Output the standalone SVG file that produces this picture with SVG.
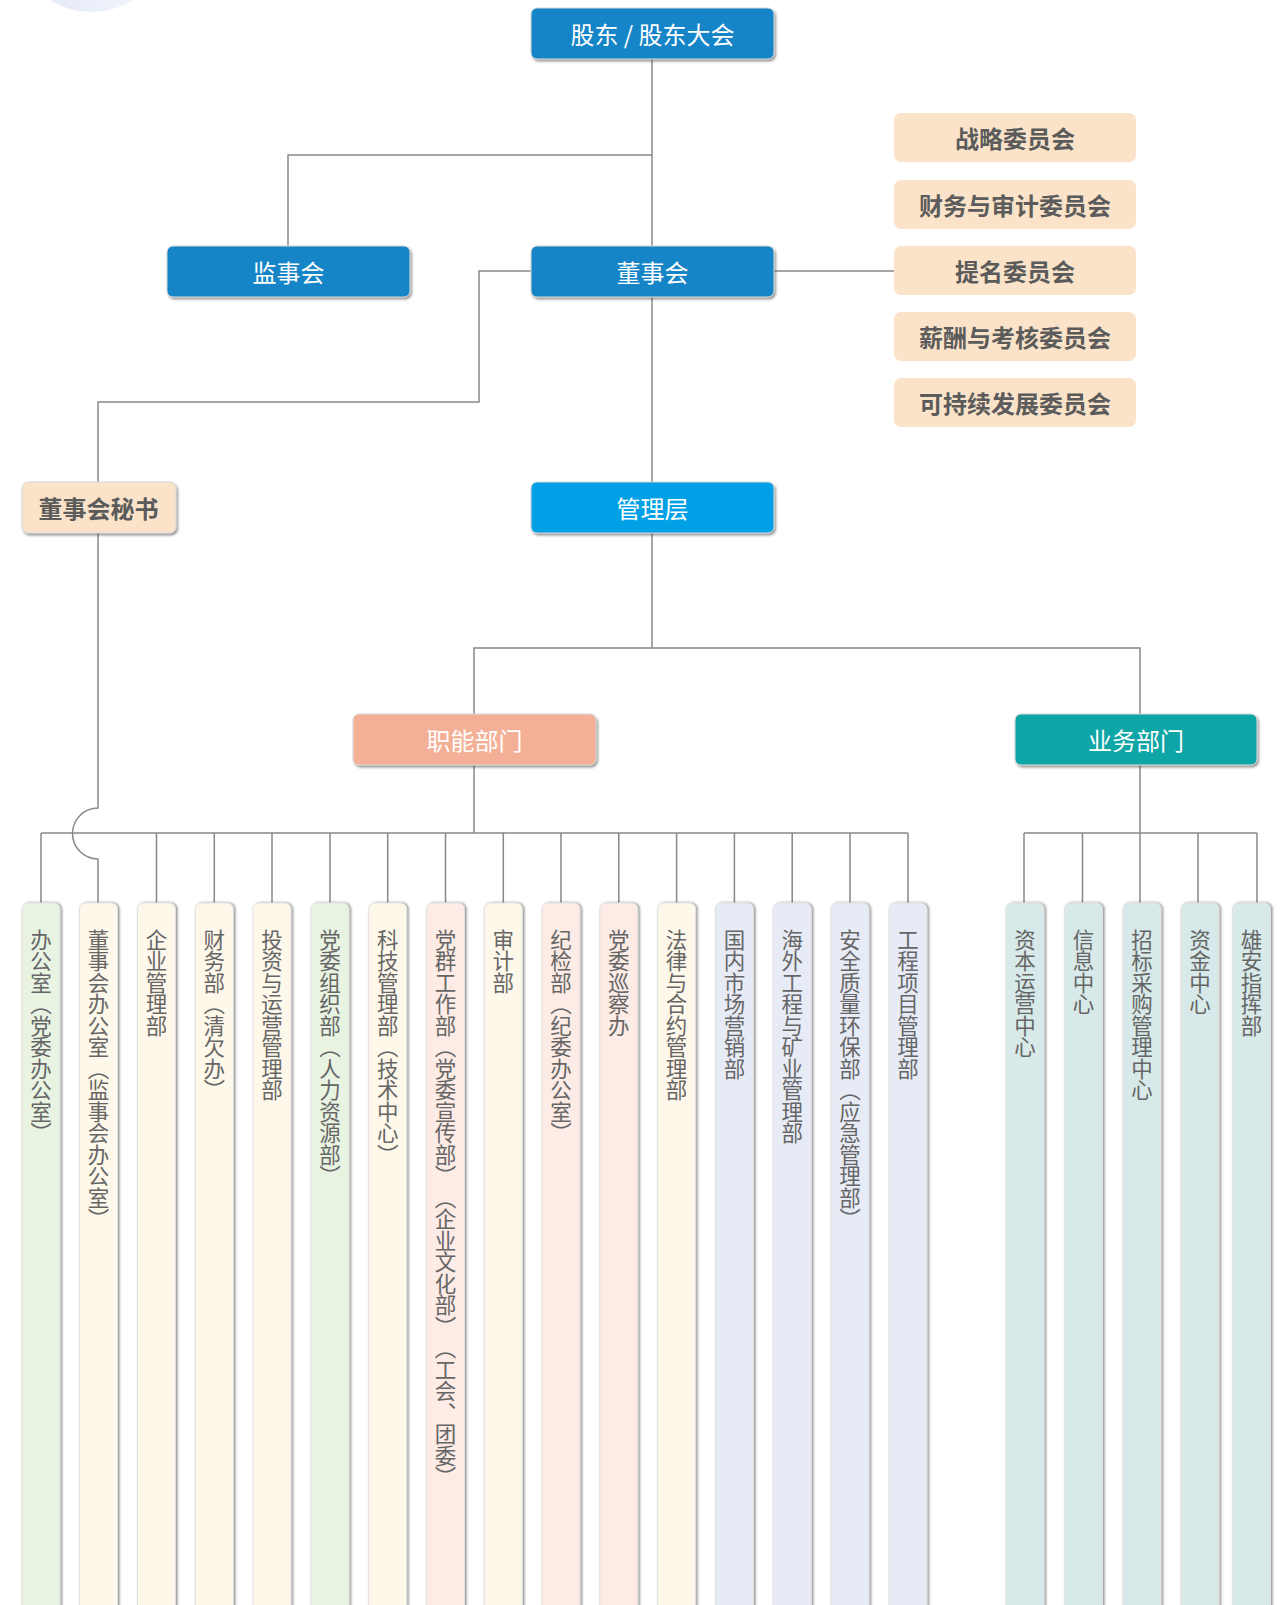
<svg xmlns="http://www.w3.org/2000/svg" width="1283" height="1605" viewBox="0 0 1283 1605">
<defs>
<linearGradient id="bg" x1="0" y1="0" x2="1" y2="0">
<stop offset="0" stop-color="#dfe6f6"/>
<stop offset="1" stop-color="#f6f8fd"/>
</linearGradient>
<filter id="sh" x="-20%" y="-20%" width="140%" height="150%">
<feDropShadow dx="1.5" dy="2" stdDeviation="0.9" flood-color="#444" flood-opacity="0.55"/>
</filter>
<filter id="shv" x="-30%" y="-5%" width="160%" height="110%">
<feDropShadow dx="1.5" dy="0" stdDeviation="0.8" flood-color="#444" flood-opacity="0.6"/>
</filter>
<style>
.lbl{font-family:"Noto Sans CJK SC","Noto Sans",sans-serif;font-size:24px;fill:#ffffff;text-anchor:middle;dominant-baseline:central}
.cmt{font-family:"Noto Sans CJK SC","Noto Sans",sans-serif;font-size:24px;font-weight:bold;fill:#5b5b5b;text-anchor:middle;dominant-baseline:central}
.vt{font-family:"Noto Sans CJK SC","Noto Sans",sans-serif;font-size:21.5px;fill:#666666;writing-mode:vertical-rl;text-orientation:upright;text-spacing-trim:space-all}
.top{stroke:#d8d8d8;stroke-width:1;filter:url(#sh)}
.col{stroke:#e2e2e2;stroke-width:1;filter:url(#shv)}
.ln{fill:none;stroke:#888888;stroke-width:1.5}
.green{fill:#e8f3e2}.cream{fill:#fef8ea}.pink{fill:#fdebe5}.blue{fill:#e6ebf6}.teal{fill:#d7e9e8}
</style>
</defs>
<rect width="1283" height="1605" fill="#ffffff"/>
<circle cx="91.5" cy="-66" r="78" fill="url(#bg)"/>

<g id="connectors" class="ln">
<path d="M652 59 V246"/>
<path d="M652 155 H288 V246"/>
<path d="M774 271 H894"/>
<path d="M531 271 H479 V402 H98 V482"/>
<path d="M652 297 V482"/>
<path d="M652 533 V648"/>
<path d="M474 714 V648 H1140 V714"/>
<path d="M474 765 V833"/>
<path d="M41 833 H908"/>
<path d="M1140 765 V833"/>
<path d="M1024 833 H1257"/>
<path d="M98 533 V808 A25.5 25.5 0 0 0 98 859 V903"/>
<path d="M41 833 V903 M156.5 833 V903 M214.3 833 V903 M272 833 V903 M330 833 V903 M387.7 833 V903 M445.5 833 V903 M503.3 833 V903 M561 833 V903 M618.8 833 V903 M676.6 833 V903 M734.4 833 V903 M792.2 833 V903 M850 833 V903 M908 833 V903"/>
<path d="M1024 833 V903 M1082.5 833 V903 M1140 833 V903 M1198 833 V903 M1257 833 V903"/>
</g>

<g id="n-shareholders"><rect class="top" x="531" y="8" width="243" height="51" rx="6" fill="#1685c8"/><text class="lbl" x="652.5" y="33.5">股东 / 股东大会</text></g>
<g id="n-supervisory"><rect class="top" x="167" y="246" width="243" height="51" rx="6" fill="#1685c8"/><text class="lbl" x="288.5" y="271.5">监事会</text></g>
<g id="n-board"><rect class="top" x="531" y="246" width="243" height="51" rx="6" fill="#1685c8"/><text class="lbl" x="652.5" y="271.5">董事会</text></g>
<g id="n-secretary"><rect class="top" x="22" y="482" width="154" height="51" rx="6" fill="#fae3c8"/><text class="cmt" x="98.5" y="507.5">董事会秘书</text></g>
<g id="n-management"><rect class="top" x="531" y="482" width="243" height="51" rx="6" fill="#00a0e6"/><text class="lbl" x="652.5" y="507.5">管理层</text></g>
<g id="n-functional"><rect class="top" x="353" y="714" width="243" height="51" rx="6" fill="#f4b096"/><text class="lbl" x="474.5" y="739.5">职能部门</text></g>
<g id="n-business"><rect class="top" x="1015" y="714" width="242" height="51" rx="6" fill="#10a5a5"/><text class="lbl" x="1136" y="739.5">业务部门</text></g>

<g id="n-c1"><rect x="894" y="113" width="242" height="49" rx="7" fill="#fae3c8"/><text class="cmt" x="1015" y="137.5">战略委员会</text></g>
<g id="n-c2"><rect x="894" y="180" width="242" height="49" rx="7" fill="#fae3c8"/><text class="cmt" x="1015" y="204.5">财务与审计委员会</text></g>
<g id="n-c3"><rect x="894" y="246" width="242" height="49" rx="7" fill="#fae3c8"/><text class="cmt" x="1015" y="270.5">提名委员会</text></g>
<g id="n-c4"><rect x="894" y="312" width="242" height="49" rx="7" fill="#fae3c8"/><text class="cmt" x="1015" y="336.5">薪酬与考核委员会</text></g>
<g id="n-c5"><rect x="894" y="378" width="242" height="49" rx="7" fill="#fae3c8"/><text class="cmt" x="1015" y="402.5">可持续发展委员会</text></g>

<g id="n-f1"><rect class="col green" x="22" y="903" width="38" height="720" rx="6"/><text class="vt" x="41" y="929">办公室（党委办公室）</text></g>
<g id="n-f2"><rect class="col cream" x="79.5" y="903" width="38" height="720" rx="6"/><text class="vt" x="98.5" y="929">董事会办公室（监事会办公室）</text></g>
<g id="n-f3"><rect class="col cream" x="137.5" y="903" width="38" height="720" rx="6"/><text class="vt" x="156.5" y="929">企业管理部</text></g>
<g id="n-f4"><rect class="col cream" x="195.3" y="903" width="38" height="720" rx="6"/><text class="vt" x="214.3" y="929">财务部（清欠办）</text></g>
<g id="n-f5"><rect class="col cream" x="253" y="903" width="38" height="720" rx="6"/><text class="vt" x="272" y="929">投资与运营管理部</text></g>
<g id="n-f6"><rect class="col green" x="311" y="903" width="38" height="720" rx="6"/><text class="vt" x="330" y="929">党委组织部（人力资源部）</text></g>
<g id="n-f7"><rect class="col cream" x="368.7" y="903" width="38" height="720" rx="6"/><text class="vt" x="387.7" y="929">科技管理部（技术中心）</text></g>
<g id="n-f8"><rect class="col pink" x="426.5" y="903" width="38" height="720" rx="6"/><text class="vt" x="445.5" y="929">党群工作部（党委宣传部）（企业文化部）（工会、团委）</text></g>
<g id="n-f9"><rect class="col cream" x="484.3" y="903" width="38" height="720" rx="6"/><text class="vt" x="503.3" y="929">审计部</text></g>
<g id="n-f10"><rect class="col pink" x="542" y="903" width="38" height="720" rx="6"/><text class="vt" x="561" y="929">纪检部（纪委办公室）</text></g>
<g id="n-f11"><rect class="col pink" x="599.8" y="903" width="38" height="720" rx="6"/><text class="vt" x="618.8" y="929">党委巡察办</text></g>
<g id="n-f12"><rect class="col cream" x="657.6" y="903" width="38" height="720" rx="6"/><text class="vt" x="676.6" y="929">法律与合约管理部</text></g>
<g id="n-f13"><rect class="col blue" x="715.4" y="903" width="38" height="720" rx="6"/><text class="vt" x="734.4" y="929">国内市场营销部</text></g>
<g id="n-f14"><rect class="col blue" x="773.2" y="903" width="38" height="720" rx="6"/><text class="vt" x="792.2" y="929">海外工程与矿业管理部</text></g>
<g id="n-f15"><rect class="col blue" x="831" y="903" width="38" height="720" rx="6"/><text class="vt" x="850" y="929">安全质量环保部（应急管理部）</text></g>
<g id="n-f16"><rect class="col blue" x="889" y="903" width="38" height="720" rx="6"/><text class="vt" x="908" y="929">工程项目管理部</text></g>

<g id="n-b1"><rect class="col teal" x="1006" y="903" width="38" height="720" rx="6"/><text class="vt" x="1025" y="929">资本运营中心</text></g>
<g id="n-b2"><rect class="col teal" x="1064.5" y="903" width="38" height="720" rx="6"/><text class="vt" x="1083.5" y="929">信息中心</text></g>
<g id="n-b3"><rect class="col teal" x="1123" y="903" width="38" height="720" rx="6"/><text class="vt" x="1142" y="929">招标采购管理中心</text></g>
<g id="n-b4"><rect class="col teal" x="1181" y="903" width="38" height="720" rx="6"/><text class="vt" x="1200" y="929">资金中心</text></g>
<g id="n-b5"><rect class="col teal" x="1232.5" y="903" width="38" height="720" rx="6"/><text class="vt" x="1251.5" y="929">雄安指挥部</text></g>
</svg>
